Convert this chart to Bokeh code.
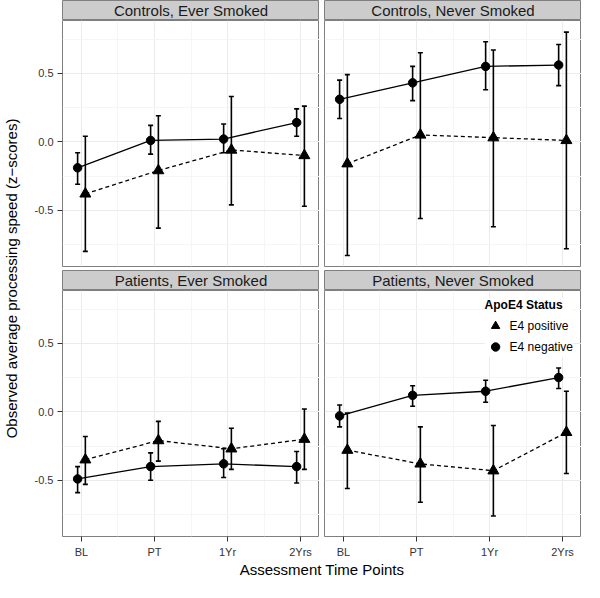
import math
from bokeh.plotting import figure
from bokeh.models import (ColumnDataSource, Range1d, FixedTicker, LinearAxis, Grid,
                          Legend, LegendItem)
from bokeh.layouts import row, column
from bokeh.transform import dodge
from bokeh.embed import file_html
from bokeh.resources import INLINE
from bokeh.core.properties import value

# ---------------- data ----------------
time_points = ["BL", "PT", "1Yr", "2Yrs"]
time_pos = [1, 2, 3, 4]
y_ticks = [-0.5, 0.0, 0.5]
y_tick_labels = ["-0.5", "0.0", "0.5"]
panel_titles = ["Controls, Ever Smoked", "Controls, Never Smoked",
                "Patients, Ever Smoked", "Patients, Never Smoked"]
group_labels = ["E4 positive", "E4 negative"]
legend_title = "ApoE4 Status"
x_title = "Assessment Time Points"
y_title = "Observed average processing speed (z\u2212scores)"

# Controls, Ever Smoked
ce_neg_mean = [-0.19, 0.01, 0.02, 0.14]
ce_neg_low = [-0.31, -0.09, -0.08, 0.04]
ce_neg_high = [-0.08, 0.12, 0.13, 0.24]
ce_pos_mean = [-0.38, -0.21, -0.06, -0.10]
ce_pos_low = [-0.80, -0.63, -0.46, -0.47]
ce_pos_high = [0.04, 0.19, 0.33, 0.26]

# Controls, Never Smoked
cn_neg_mean = [0.31, 0.43, 0.55, 0.56]
cn_neg_low = [0.17, 0.30, 0.38, 0.41]
cn_neg_high = [0.45, 0.55, 0.73, 0.71]
cn_pos_mean = [-0.16, 0.05, 0.03, 0.01]
cn_pos_low = [-0.83, -0.56, -0.62, -0.78]
cn_pos_high = [0.49, 0.65, 0.67, 0.80]

# Patients, Ever Smoked
pe_neg_mean = [-0.49, -0.40, -0.38, -0.40]
pe_neg_low = [-0.59, -0.50, -0.48, -0.52]
pe_neg_high = [-0.40, -0.30, -0.27, -0.29]
pe_pos_mean = [-0.35, -0.21, -0.27, -0.20]
pe_pos_low = [-0.53, -0.36, -0.42, -0.42]
pe_pos_high = [-0.18, -0.07, -0.12, 0.02]

# Patients, Never Smoked
pn_neg_mean = [-0.03, 0.12, 0.15, 0.25]
pn_neg_low = [-0.11, 0.04, 0.07, 0.17]
pn_neg_high = [0.05, 0.19, 0.23, 0.32]
pn_pos_mean = [-0.28, -0.38, -0.43, -0.15]
pn_pos_low = [-0.56, -0.66, -0.76, -0.45]
pn_pos_high = [-0.01, -0.11, -0.10, 0.15]

panel_series = [
    ((ce_pos_mean, ce_pos_low, ce_pos_high), (ce_neg_mean, ce_neg_low, ce_neg_high)),
    ((cn_pos_mean, cn_pos_low, cn_pos_high), (cn_neg_mean, cn_neg_low, cn_neg_high)),
    ((pe_pos_mean, pe_pos_low, pe_pos_high), (pe_neg_mean, pe_neg_low, pe_neg_high)),
    ((pn_pos_mean, pn_pos_low, pn_pos_high), (pn_neg_mean, pn_neg_low, pn_neg_high)),
]

# ---------------- layout / style ----------------
FONT = "Liberation Sans"
LEFT = 40      # room for y axis
GAP = 5        # gap between panel columns
PW = 257       # panel frame width
SH = 20        # strip height
PH = 246       # panel frame height
RG = 4         # gap between rows
AXB = 24       # room for x axis
XLH = 20       # x title height
YLW = 22       # y title width
X_MIN, X_MAX = 0.74, 4.26
Y_MIN, Y_MAX = -0.91, 0.885
DODGE = 0.053
BORDER = "#7f7f7f"


def bare_figure(**kw):
    f = figure(x_axis_location=None, y_axis_location=None, tools="", toolbar_location=None,
               output_backend="svg", min_border_right=0, **kw)
    f.center = [r for r in f.center if not isinstance(r, Grid)]
    return f


def style_axis(ax):
    ax.axis_line_color = None
    ax.major_tick_line_color = "#333333"
    ax.major_tick_out = 5
    ax.major_tick_in = 0
    ax.minor_tick_line_color = None
    ax.major_label_text_font = FONT
    ax.major_label_text_font_size = "11px"
    ax.major_label_text_color = "#333333"
    ax.major_label_standoff = 4


def make_strip(title, left):
    mb = LEFT if left else GAP
    s = bare_figure(width=mb + PW, height=SH, x_range=Range1d(0, 1), y_range=Range1d(0, 1),
                    min_border_left=mb, min_border_top=0, min_border_bottom=0,
                    background_fill_color="#cccccc", border_fill_color="white",
                    outline_line_color=BORDER)
    s.text(x=[0.5], y=[0.5], text=[title], text_align="center", text_baseline="middle",
           text_font=value(FONT), text_font_size="15px", text_color="#1a1a1a")
    return s


def make_panel(i, left, bottom, legend=False):
    mb = LEFT if left else GAP
    bb = AXB if bottom else RG
    p = bare_figure(width=mb + PW, height=PH + bb,
                    x_range=Range1d(X_MIN, X_MAX), y_range=Range1d(Y_MIN, Y_MAX),
                    min_border_left=mb, min_border_top=0, min_border_bottom=bb,
                    background_fill_color="white", border_fill_color="white",
                    outline_line_color=BORDER, outline_line_width=1)
    xt = FixedTicker(ticks=time_pos, minor_ticks=[1.5, 2.5, 3.5])
    yt = FixedTicker(ticks=y_ticks, minor_ticks=[-0.75, -0.25, 0.25, 0.75])
    for dim, t in ((0, xt), (1, yt)):
        p.add_layout(Grid(dimension=dim, ticker=t, grid_line_color="#ebebeb",
                          grid_line_width=1, minor_grid_line_color="#f5f5f5",
                          minor_grid_line_width=1))
    if left:
        ay = LinearAxis(ticker=yt, major_label_overrides=dict(zip(y_ticks, y_tick_labels)))
        style_axis(ay)
        p.add_layout(ay, "left")
    if bottom:
        ax = LinearAxis(ticker=xt, major_label_overrides=dict(zip(time_pos, time_points)))
        style_axis(ax)
        p.add_layout(ax, "below")

    (pos_m, pos_lo, pos_hi), (neg_m, neg_lo, neg_hi) = panel_series[i]
    src_pos = ColumnDataSource(dict(x=time_pos, m=pos_m, lo=pos_lo, hi=pos_hi))
    src_neg = ColumnDataSource(dict(x=time_pos, m=neg_m, lo=neg_lo, hi=neg_hi))
    x_pos = dodge("x", DODGE)
    x_neg = dodge("x", -DODGE)

    p.line(x=x_neg, y="m", source=src_neg, line_color="black", line_width=1.3)
    p.line(x=x_pos, y="m", source=src_pos, line_color="black", line_width=1.3,
           line_dash="4 3")
    renderers = {}
    for key, src, xs, marker, size in (("pos", src_pos, x_pos, "triangle", 11),
                                       ("neg", src_neg, x_neg, "circle", 8.5)):
        p.segment(x0=xs, y0="lo", x1=xs, y1="hi", source=src, line_color="black",
                  line_width=1.6)
        p.scatter(x=xs, y="lo", source=src, marker="dash", size=5, line_width=1.6,
                  line_color="black")
        p.scatter(x=xs, y="hi", source=src, marker="dash", size=5, line_width=1.6,
                  line_color="black")
        renderers[key] = p.scatter(x=xs, y="m", source=src, marker=marker, size=size,
                                   fill_color="black", line_color="black")
    if legend:
        lg = Legend(items=[LegendItem(label=group_labels[0], renderers=[renderers["pos"]]),
                           LegendItem(label=group_labels[1], renderers=[renderers["neg"]])],
                    title=legend_title, location="top_right")
        lg.title_text_font = FONT
        lg.title_text_font_style = "bold"
        lg.title_text_font_size = "12px"
        lg.title_text_color = "black"
        lg.title_standoff = 3
        lg.label_text_font = FONT
        lg.label_text_font_size = "12px"
        lg.label_text_color = "black"
        lg.glyph_width = 21
        lg.glyph_height = 21
        lg.label_standoff = 4
        lg.spacing = 0
        lg.padding = 4
        lg.margin = 8
        lg.background_fill_color = "white"
        lg.background_fill_alpha = 1
        lg.border_line_color = None
        p.add_layout(lg)
    return p


def make_text_fig(width, height, text, mbl, mbt, mbb, angle, baseline, ypos):
    f = bare_figure(width=width, height=height, x_range=Range1d(0, 1), y_range=Range1d(0, 1),
                    min_border_left=mbl, min_border_top=mbt, min_border_bottom=mbb,
                    background_fill_color="white", border_fill_color="white",
                    outline_line_color=None)
    f.text(x=[0.5], y=[ypos], text=[text], angle=angle, text_align="center",
           text_baseline=baseline, text_font=value(FONT), text_font_size="15px",
           text_color="black")
    return f


total_h = SH + PH + RG + SH + PH + AXB + XLH
s00 = make_strip(panel_titles[0], True)
s01 = make_strip(panel_titles[1], False)
p00 = make_panel(0, True, False)
p01 = make_panel(1, False, False)
s10 = make_strip(panel_titles[2], True)
s11 = make_strip(panel_titles[3], False)
p10 = make_panel(2, True, True)
p11 = make_panel(3, False, True, legend=True)

ylab = make_text_fig(YLW, total_h, y_title, 0, SH, AXB + XLH, math.pi / 2, "middle", 0.5)
xlab = make_text_fig(LEFT + PW + GAP + PW, XLH, x_title, LEFT, 0, 0, 0, "top", 1.0)

layout = row(ylab, column(row(s00, s01), row(p00, p01), row(s10, s11), row(p10, p11), xlab))

open("out.html", "w").write(file_html(layout, INLINE))
